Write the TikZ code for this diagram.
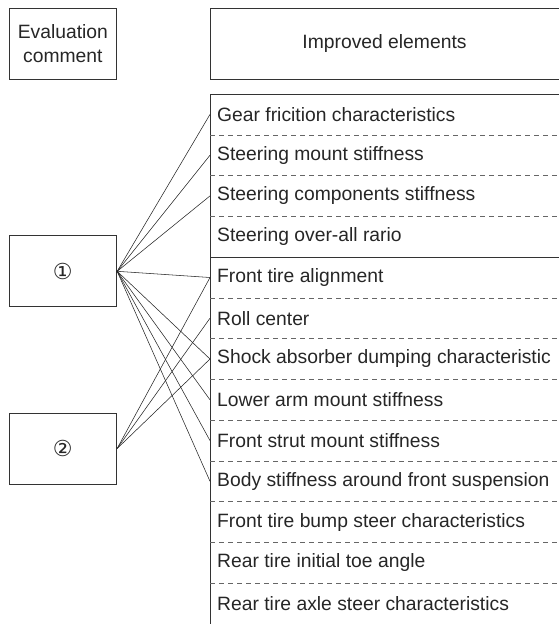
\documentclass[tikz,border=0pt]{standalone}
\usepackage{fontspec}
\setmainfont{Liberation Sans}
\newfontfamily\circfont{DejaVu Sans}

\tikzstyle{box} = [draw=black!80, line width=0.9pt, inner sep=0pt, minimum width=107.7pt, minimum height=71pt, align=center, font=\fontsize{19.3}{24}\selectfont, text=black!85]
\tikzstyle{item} = [anchor=west, inner sep=7pt, font=\fontsize{19.3}{22}\selectfont, text=black!85]
\tikzstyle{link} = [black!85, line width=0.55pt]
\tikzstyle{sep} = [black!60, dash pattern=on 5pt off 4pt, line width=0.6pt]

\begin{document}
\begin{tikzpicture}[x=1pt,y=-1pt]
	\useasboundingbox (0,0) rectangle (559,624);

	% headers
	\node[box] (eval) at (62.85,43.5) {Evaluation\\comment};
	\draw[black!80, line width=0.9pt] (559,8) -- (210,8) -- (210,79) -- (559,79);
	\node[item, anchor=center] (head) at (384.5,43.5) {Improved elements};

	% comment boxes
	\node[box] (c1) at (62.85,271.3) {\circfont\fontsize{22}{22}\selectfont ①};
	\node[box] (c2) at (62.85,448.5) {\circfont\fontsize{22}{22}\selectfont ②};

	% list of elements
	\draw[black!80, line width=0.9pt] (559,94) -- (210,94) -- (210,624);

	\node[item] (r1) at (210,114.4) {Gear fricition characteristics};
	\node[item] (r2) at (210,155.2) {Steering mount stiffness};
	\node[item] (r3) at (210,195.9) {Steering components stiffness};
	\node[item] (r4) at (210,236.7) {Steering over-all rario};
	\node[item] (r5) at (210,277.5) {Front tire alignment};
	\node[item] (r6) at (210,318.2) {Roll center};
	\node[item] (r7) at (210,359.0) {Shock absorber dumping characteristic};
	\node[item] (r8) at (210,399.8) {Lower arm mount stiffness};
	\node[item] (r9) at (210,440.6) {Front strut mount stiffness};
	\node[item] (r10) at (210,481.3) {Body stiffness around front suspension};
	\node[item] (r11) at (210,522.1) {Front tire bump steer characteristics};
	\node[item] (r12) at (210,562.9) {Rear tire initial toe angle};
	\node[item] (r13) at (210,603.6) {Rear tire axle steer characteristics};

	\draw[sep] (210,134.8) -- (559,134.8);
	\draw[sep] (210,175.5) -- (559,175.5);
	\draw[sep] (210,216.3) -- (559,216.3);
	\draw[black!80, line width=0.9pt] (210,257.1) -- (559,257.1);
	\draw[sep] (210,297.8) -- (559,297.8);
	\draw[sep] (210,338.6) -- (559,338.6);
	\draw[sep] (210,379.4) -- (559,379.4);
	\draw[sep] (210,420.2) -- (559,420.2);
	\draw[sep] (210,460.9) -- (559,460.9);
	\draw[sep] (210,501.7) -- (559,501.7);
	\draw[sep] (210,542.5) -- (559,542.5);
	\draw[sep] (210,583.3) -- (559,583.3);

	% links from comment 1
	\draw[link] (c1.east) -- (r1.west);
	\draw[link] (c1.east) -- (r2.west);
	\draw[link] (c1.east) -- (r3.west);
	\draw[link] (c1.east) -- (r5.west);
	\draw[link] (c1.east) -- (r7.west);
	\draw[link] (c1.east) -- (r8.west);
	\draw[link] (c1.east) -- (r9.west);
	\draw[link] (c1.east) -- (r10.west);

	% links from comment 2
	\draw[link] (c2.east) -- (r5.west);
	\draw[link] (c2.east) -- (r6.west);
	\draw[link] (c2.east) -- (r7.west);
\end{tikzpicture}
\end{document}
